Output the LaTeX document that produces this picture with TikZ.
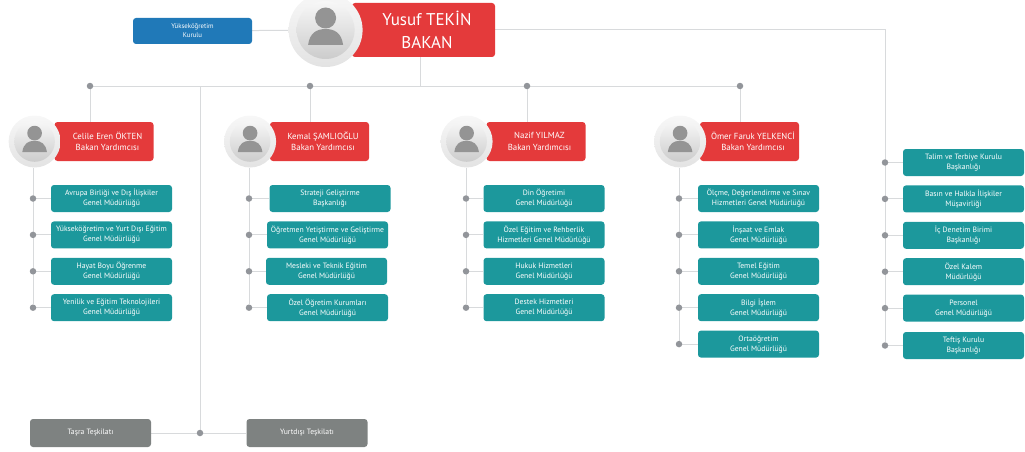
\documentclass[tikz,border=0pt]{standalone}
\usepackage{xcolor}
\usepackage{fontspec}
\setmainfont{PT Sans}
\usetikzlibrary{positioning, backgrounds}

\definecolor{bakanred}{HTML}{E43A3B}
\definecolor{deptteal}{HTML}{1C989C}
\definecolor{kurulblue}{HTML}{2079B8}
\definecolor{orggray}{HTML}{7E8281}
\definecolor{linegray}{HTML}{D8DADC}
\definecolor{dotgray}{HTML}{92959A}

\newcommand{\redtext}[2]{\hspace*{7pt}#1\\\hspace*{7pt}#2}

\tikzset{pics/person/.style={code={
  \shade [top color=black!3, bottom color=black!20] (0,0) circle (29);
  \fill [black!42] (0,12) circle (10.5);
  \fill [black!42] (-17.5,-15) .. controls (-16,-3) and (-9,1) .. (0,1) .. controls (9,1) and (16,-3) .. (17.5,-15) -- cycle;
}}}

\begin{document}
\begin{tikzpicture}[x=1pt, y=1pt]
\tikzstyle{dept} = [rectangle, fill=deptteal, text=white, minimum width=121pt, minimum height=27pt, inner sep=0pt, align=center, rounded corners=3pt, font=\fontsize{7.7}{10}\selectfont]
\tikzstyle{orgbox} = [dept, fill=orggray, minimum height=28pt]
\tikzstyle{yokbox} = [dept, fill=kurulblue, minimum width=119pt, minimum height=26pt, font=\fontsize{6.8}{9}\selectfont]
\tikzstyle{deputy} = [rectangle, fill=bakanred, text=white, minimum width=99pt, minimum height=39pt, inner sep=0pt, align=center, rounded corners=3pt, font=\fontsize{8.8}{11.2}\selectfont]
\tikzstyle{minister} = [deputy, minimum width=143pt, minimum height=54pt, font=\fontsize{17}{23}\selectfont]
\tikzstyle{avatar} = [circle, top color=black!3, bottom color=black!11, minimum size=52pt, inner sep=0pt]
\tikzstyle{bigavatar} = [avatar, minimum size=74pt]
\tikzstyle{dot} = [circle, fill=dotgray, minimum size=6.5pt, inner sep=0pt]
\tikzstyle{link} = [linegray, line width=1pt]

\useasboundingbox (0,0) rectangle (1025,-452);

% top row
\node (bakan) [minister] at (423.5,-30) {\redtext{Yusuf TEKİN}{BAKAN}};
\node (bakanpic) [bigavatar, left=-11pt of bakan] {};
\pic at (bakanpic) {person};
\node (yok) [yokbox] at (192.5,-31) {Yükseköğretim\\Kurulu};

% bus
\node (busa) [dot] at (90,-86) {};
\node (busb) [dot] at (310,-86) {};
\node (busc) [dot] at (527,-86) {};
\node (busd) [dot] at (740,-86) {};
\coordinate (busf) at (200,-86);

% deputies
\node (celile) [deputy] at (104,-141.5) {\redtext{Celile Eren ÖKTEN}{Bakan Yardımcısı}};
\node (celilepic) [avatar, left=-6.5pt of celile] {};
\pic [scale=0.7] at (celilepic) {person};
\node (kemal) [deputy] at (319.5,-141.5) {\redtext{Kemal ŞAMLIOĞLU}{Bakan Yardımcısı}};
\node (kemalpic) [avatar, left=-6.5pt of kemal] {};
\pic [scale=0.7] at (kemalpic) {person};
\node (nazif) [deputy] at (536,-141.5) {\redtext{Nazif YILMAZ}{Bakan Yardımcısı}};
\node (nazifpic) [avatar, left=-6.5pt of nazif] {};
\pic [scale=0.7] at (nazifpic) {person};
\node (omer) [deputy] at (749.5,-141.5) {\redtext{Ömer Faruk YELKENCİ}{Bakan Yardımcısı}};
\node (omerpic) [avatar, left=-6.5pt of omer] {};
\pic [scale=0.7] at (omerpic) {person};

% first column
\node (avrupa) [dept] at (111.5,-198.5) {Avrupa Birliği ve Dış İlişkiler\\Genel Müdürlüğü};
\node (yuksek) [dept, below=9pt of avrupa] {Yükseköğretim ve Yurt Dışı Eğitim\\Genel Müdürlüğü};
\node (hayat) [dept, below=9pt of yuksek] {Hayat Boyu Öğrenme\\Genel Müdürlüğü};
\node (yenilik) [dept, below=9pt of hayat] {Yenilik ve Eğitim Teknolojileri\\Genel Müdürlüğü};

% second column
\node (strateji) [dept] at (330,-198.5) {Strateji Geliştirme\\Başkanlığı};
\node (ogretmen) [dept, below=9pt of strateji, xshift=-2.5pt] {Öğretmen Yetiştirme ve Geliştirme\\Genel Müdürlüğü};
\node (mesleki) [dept, below=9pt of ogretmen, xshift=-1pt] {Mesleki ve Teknik Eğitim\\Genel Müdürlüğü};
\node (ozel) [dept, below=9pt of mesleki, xshift=1pt] {Özel Öğretim Kurumları\\Genel Müdürlüğü};

% third column
\node (din) [dept] at (544,-198.5) {Din Öğretimi\\Genel Müdürlüğü};
\node (rehberlik) [dept, below=9pt of din] {Özel Eğitim ve Rehberlik\\Hizmetleri Genel Müdürlüğü};
\node (hukuk) [dept, below=9pt of rehberlik] {Hukuk Hizmetleri\\Genel Müdürlüğü};
\node (destek) [dept, below=9pt of hukuk] {Destek Hizmetleri\\Genel Müdürlüğü};

% fourth column
\node (olcme) [dept] at (758.5,-198.5) {Ölçme, Değerlendirme ve Sınav\\Hizmetleri Genel Müdürlüğü};
\node (insaat) [dept, below=9pt of olcme] {İnşaat ve Emlak\\Genel Müdürlüğü};
\node (temel) [dept, below=9pt of insaat] {Temel Eğitim\\Genel Müdürlüğü};
\node (bilgi) [dept, below=9pt of temel] {Bilgi İşlem\\Genel Müdürlüğü};
\node (orta) [dept, below=9pt of bilgi] {Ortaöğretim\\Genel Müdürlüğü};

% right column
\node (talim) [dept] at (963.5,-162.5) {Talim ve Terbiye Kurulu\\Başkanlığı};
\node (basin) [dept, below=9pt of talim] {Basın ve Halkla İlişkiler\\Müşavirliği};
\node (denetim) [dept, below=9pt of basin] {İç Denetim Birimi\\Başkanlığı};
\node (kalem) [dept, below=9pt of denetim] {Özel Kalem\\Müdürlüğü};
\node (personel) [dept, below=9pt of kalem] {Personel\\Genel Müdürlüğü};
\node (teftis) [dept, below=10pt of personel] {Teftiş Kurulu\\Başkanlığı};

% bottom row
\node (tasra) [orgbox] at (90.5,-433) {Taşra Teşkilatı};
\node (yurtdisi) [orgbox] at (307,-433) {Yurtdışı Teşkilatı};
\node (teskilat) [dot] at (200,-433) {};

% dots
\node (d1) [dot] at (33,0 |- avrupa.west) {};
\node (d2) [dot] at (33,0 |- yuksek.west) {};
\node (d3) [dot] at (33,0 |- hayat.west) {};
\node (d4) [dot] at (33,0 |- yenilik.west) {};
\node (k1) [dot] at (249,0 |- strateji.west) {};
\node (k2) [dot] at (249,0 |- ogretmen.west) {};
\node (k3) [dot] at (249,0 |- mesleki.west) {};
\node (k4) [dot] at (249,0 |- ozel.west) {};
\node (n1) [dot] at (466,0 |- din.west) {};
\node (n2) [dot] at (466,0 |- rehberlik.west) {};
\node (n3) [dot] at (466,0 |- hukuk.west) {};
\node (n4) [dot] at (466,0 |- destek.west) {};
\node (o1) [dot] at (679,0 |- olcme.west) {};
\node (o2) [dot] at (679,0 |- insaat.west) {};
\node (o3) [dot] at (679,0 |- temel.west) {};
\node (o4) [dot] at (679,0 |- bilgi.west) {};
\node (o5) [dot] at (679,0 |- orta.west) {};
\node (r1) [dot] at (885,0 |- talim.west) {};
\node (r2) [dot] at (885,0 |- basin.west) {};
\node (r3) [dot] at (885,0 |- denetim.west) {};
\node (r4) [dot] at (885,0 |- kalem.west) {};
\node (r5) [dot] at (885,0 |- personel.west) {};
\node (r6) [dot] at (885,0 |- teftis.west) {};

\begin{scope}[on background layer]
\draw [link] (yok) -- (bakanpic);
\draw [link] (bakan.east) -| (r6);
\draw [link] ([xshift=-3pt]bakan.south) -- ([xshift=-3pt]bakan.south |- busa);
\draw [link] (busa) -- (busd);
\draw [link] (busf) -- (teskilat);
\draw [link] (tasra) -- (yurtdisi);
\draw [link] (busa) -- (busa |- celile.north);
\draw [link] (busb) -- (busb |- kemal.north);
\draw [link] (busc) -- (busc |- nazif.north);
\draw [link] (busd) -- (busd |- omer.north);
\draw [link] (d1 |- celilepic.south) -- (d4);
\draw [link] (k1 |- kemalpic.south) -- (k4);
\draw [link] (n1 |- nazifpic.south) -- (n4);
\draw [link] (o1 |- omerpic.south) -- (o5);
\draw [link] (d1) -- (avrupa);
\draw [link] (d2) -- (yuksek);
\draw [link] (d3) -- (hayat);
\draw [link] (d4) -- (yenilik);
\draw [link] (k1) -- (strateji);
\draw [link] (k2) -- (ogretmen);
\draw [link] (k3) -- (mesleki);
\draw [link] (k4) -- (ozel);
\draw [link] (n1) -- (din);
\draw [link] (n2) -- (rehberlik);
\draw [link] (n3) -- (hukuk);
\draw [link] (n4) -- (destek);
\draw [link] (o1) -- (olcme);
\draw [link] (o2) -- (insaat);
\draw [link] (o3) -- (temel);
\draw [link] (o4) -- (bilgi);
\draw [link] (o5) -- (orta);
\draw [link] (r1) -- (talim);
\draw [link] (r2) -- (basin);
\draw [link] (r3) -- (denetim);
\draw [link] (r4) -- (kalem);
\draw [link] (r5) -- (personel);
\draw [link] (r6) -- (teftis);
\end{scope}

\end{tikzpicture}
\end{document}
